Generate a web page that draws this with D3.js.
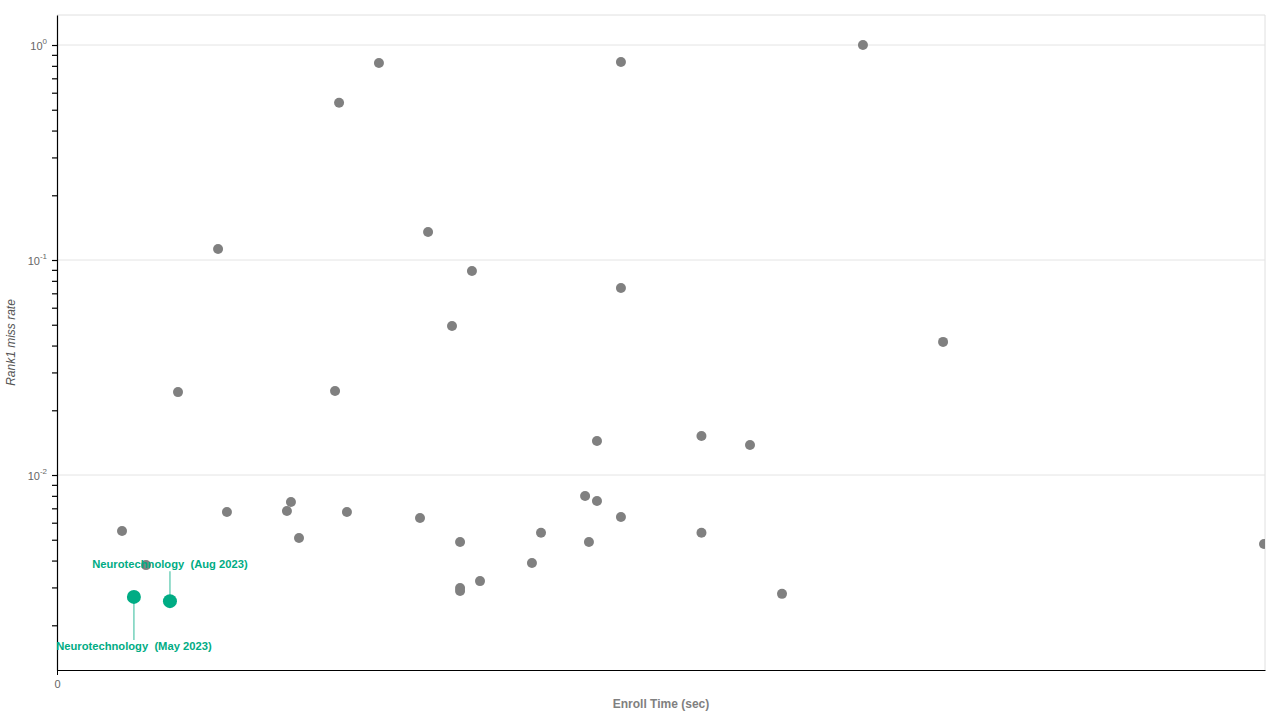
<!DOCTYPE html>
<html>
<head>
<meta charset="utf-8">
<script src="https://cdn.jsdelivr.net/npm/d3@7"></script>
<style>
  body { margin: 0; background: #fff; }
  svg { display: block; font-family: "Liberation Sans", Arial, sans-serif; }
</style>
</head>
<body>
<svg id="chart"></svg>
<script>
// enroll time (sec) and rank1 miss rate for the other algorithms
const enrollTimes = [
  0.323, 0.442, 0.601, 0.800, 0.844, 1.142, 1.162, 1.202, 1.381, 1.401,
  1.440, 1.599, 1.803, 1.843, 1.962, 2.002, 2.002, 2.002, 2.061, 2.101,
  2.359, 2.404, 2.623, 2.642, 2.682, 2.682, 2.801, 2.801, 2.801, 3.201,
  3.201, 3.442, 3.601, 4.003, 4.401, 5.995
];
const missRates = [
  0.00549, 0.00381, 0.0243, 0.1125, 0.00673, 0.00680, 0.00749, 0.00509, 0.0246, 0.539,
  0.00673, 0.825, 0.00631, 0.1350, 0.0493, 0.00488, 0.00298, 0.00289, 0.0889, 0.00321,
  0.00390, 0.00539, 0.00799, 0.00488, 0.01439, 0.00757, 0.834, 0.0741, 0.00638, 0.01518,
  0.00539, 0.01379, 0.00280, 1.0, 0.0416, 0.00478
];

// highlighted algorithm
const highlightNames = ["Neurotechnology  (May 2023)", "Neurotechnology  (Aug 2023)"];
const highlightTimes = [0.382, 0.561];
const highlightRates = [0.00271, 0.00259];
const highlightLabelSide = ["below", "above"];

const xDomain = [0, 6];
const yDomain = [0.001239, 1.379];
const xTickValues = [0];

const width = 1280;
const height = 720;
const margin = { top: 15, right: 15, bottom: 50, left: 57 };

const svg = d3.select("#chart").attr("width", width).attr("height", height);

const x = d3.scaleLinear().domain(xDomain).range([margin.left, width - margin.right]);
const y = d3.scaleLog().domain(yDomain).range([height - margin.bottom, margin.top]);

const green = "#00ac84";
const grey = "#808080";

// frame (top / right) in light grey
svg.append("path")
  .attr("d", `M${margin.left},${margin.top}H${width - margin.right}V${height - margin.bottom}`)
  .attr("fill", "none")
  .attr("stroke", "#e0e0e0");

// horizontal grid at decades
const decades = y.ticks().filter(d => Math.abs(Math.log10(d) - Math.round(Math.log10(d))) < 1e-9);
svg.append("g")
  .selectAll("line")
  .data(decades)
  .join("line")
  .attr("x1", margin.left)
  .attr("x2", width - margin.right)
  .attr("y1", d => y(d))
  .attr("y2", d => y(d))
  .attr("stroke", "#e4e4e4");

// points, clipped to the plot area
svg.append("clipPath").attr("id", "plot-clip")
  .append("rect")
  .attr("x", margin.left)
  .attr("y", margin.top)
  .attr("width", width - margin.left - margin.right)
  .attr("height", height - margin.top - margin.bottom);

const plot = svg.append("g").attr("clip-path", "url(#plot-clip)");

plot.append("g")
  .selectAll("circle")
  .data(enrollTimes.map((t, i) => ({ t, r: missRates[i] })))
  .join("circle")
  .attr("cx", d => x(d.t))
  .attr("cy", d => y(d.r))
  .attr("r", 5)
  .attr("fill", grey);

// y axis
const yAxis = svg.append("g")
  .attr("transform", `translate(${margin.left},0)`)
  .call(d3.axisLeft(y)
    .tickValues(y.ticks())
    .tickSize(5)
    .tickSizeOuter(0)
    .tickFormat(""));
yAxis.select(".domain").attr("stroke", "#000").attr("stroke-width", 1.2);
yAxis.selectAll(".tick line").attr("stroke", "#000").attr("stroke-width", 1.2);

const yLabels = svg.append("g")
  .selectAll("text")
  .data(decades)
  .join("text")
  .attr("x", margin.left - 10)
  .attr("y", d => y(d) + 5)
  .attr("text-anchor", "end")
  .attr("fill", "#666")
  .attr("font-size", 11);
yLabels.append("tspan").text("10");
yLabels.append("tspan")
  .attr("dy", -6)
  .attr("font-size", 8)
  .text(d => String(Math.round(Math.log10(d))));

// x axis
const xAxis = svg.append("g")
  .attr("transform", `translate(0,${height - margin.bottom})`)
  .call(d3.axisBottom(x).tickValues(xTickValues).tickSize(5).tickSizeOuter(0).tickFormat(d3.format("d")));
xAxis.select(".domain").attr("stroke", "#000").attr("stroke-width", 1.2);
xAxis.selectAll(".tick line").attr("stroke", "#000");
xAxis.selectAll(".tick text")
  .attr("fill", "#666")
  .attr("font-size", 11)
  .attr("font-family", "'Liberation Sans', Arial, sans-serif")
  .attr("dy", "0.95em");

// axis titles
svg.append("text")
  .attr("x", (margin.left + width - margin.right) / 2)
  .attr("y", 708)
  .attr("text-anchor", "middle")
  .attr("font-size", 12)
  .attr("font-weight", "bold")
  .attr("fill", "#808080")
  .text("Enroll Time (sec)");

svg.append("text")
  .attr("transform", `translate(15,${(margin.top + height - margin.bottom) / 2}) rotate(-90)`)
  .attr("text-anchor", "middle")
  .attr("font-size", 12)
  .attr("font-style", "italic")
  .attr("fill", "#555")
  .text("Rank1 miss rate");

// highlighted points with leader lines and labels
const hl = svg.append("g")
  .selectAll("g")
  .data(highlightNames.map((name, i) => ({
    name, t: highlightTimes[i], r: highlightRates[i], side: highlightLabelSide[i]
  })))
  .join("g");

hl.append("line")
  .attr("x1", d => x(d.t))
  .attr("x2", d => x(d.t))
  .attr("y1", d => y(d.r))
  .attr("y2", d => d.side === "below" ? y(d.r) + 43 : y(d.r) - 30)
  .attr("stroke", green)
  .attr("stroke-opacity", 0.55)
  .attr("stroke-width", 1.5);

hl.append("circle")
  .attr("cx", d => x(d.t))
  .attr("cy", d => y(d.r))
  .attr("r", 7)
  .attr("fill", green);

hl.append("text")
  .attr("x", d => x(d.t))
  .attr("y", d => d.side === "below" ? y(d.r) + 53 : y(d.r) - 33)
  .attr("text-anchor", "middle")
  .attr("font-size", 11.2)
  .attr("font-weight", "bold")
  .attr("fill", green)
  .style("white-space", "pre")
  .text(d => d.name);
</script>
</body>
</html>
